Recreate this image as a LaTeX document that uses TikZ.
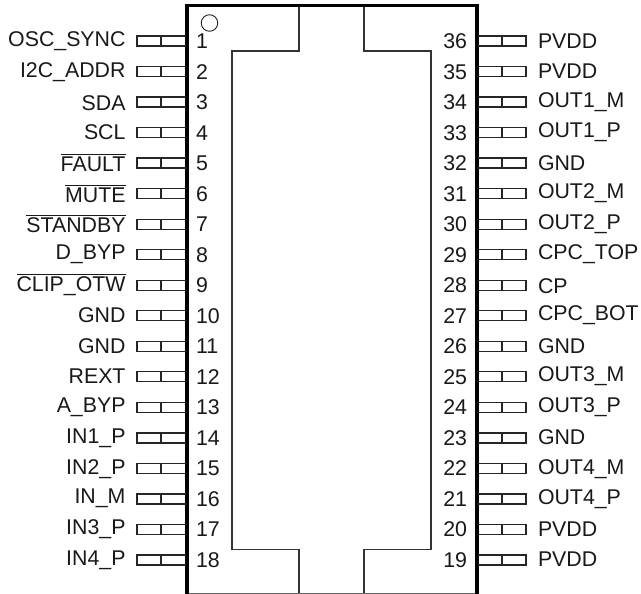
\documentclass[tikz,border=0pt]{standalone}
\usepackage{fontspec}
\setmainfont{Liberation Sans}
\newcommand\ovl[1]{\leavevmode\vbox{\hrule height 1pt\kern 1.9pt\hbox{#1}}}
\tikzset{
  pinbox/.style={draw=black!85,line width=1.3pt},
  body/.style={draw=black,line width=3.6pt,line cap=butt,line join=miter},
  inner/.style={draw=black!80,line width=1.2pt},
  txt/.style={inner sep=0pt,outer sep=0pt,font=\fontsize{21.4}{21.4}\selectfont,text=black!90},
  leftlabel/.style={txt,anchor=base east},
  rightlabel/.style={txt,anchor=base west},
  leftnum/.style={txt,anchor=base west},
  rightnum/.style={txt,anchor=base east},
}
\begin{document}
\begin{tikzpicture}[x=1bp,y=-1bp]
\useasboundingbox (0,0) rectangle (641,594);
\fill[white] (0,0) rectangle (641,594);
% package outline
\draw[black!60,line width=0.8pt] (187,593.6) -- (476.7,593.6);
\draw[body] (187,594) -- (187,5.5) -- (476.7,5.5) -- (476.7,594);
% die outline
\draw[inner] (299,7) -- (299,51) -- (232,51) -- (232,549.5) -- (299,549.5) -- (299,593);
\draw[inner] (364,7) -- (364,51) -- (431,51) -- (431,549.5) -- (364,549.5) -- (364,593);
\node[circle,draw=black!85,line width=0.9pt,minimum size=16.5bp,inner sep=0pt] (dot) at (209.5,23) {};
% left side
\foreach \n/\d/\lab in {1/6/OSC\_SYNC,2/5.8/I2C\_ADDR,3/8/SDA,4/6.7/SCL,5/8.6/\ovl{FAULT},6/9/\ovl{MUTE},7/8.5/\ovl{STANDBY},8/4.6/D\_BYP,9/6.4/\ovl{CLIP\_OTW},10/7/GND,11/7/GND,12/6.5/REXT,13/5.3/A\_BYP,14/5.4/IN1\_P,15/5.6/IN2\_P,16/5/IN\_M,17/4.8/IN3\_P,18/5/IN4\_P}{
  \pgfmathsetmacro\yc{41+30.53*(\n-1)}
  \draw[pinbox] (185.5,\yc-5) -- (137,\yc-5) -- (137,\yc+5) -- (185.5,\yc+5) (161,\yc-5) -- (161,\yc+5);
  \node[leftlabel] (L\n) at (125.5,\yc+\d) {\lab};
  \node[leftnum] (NL\n) at (196,\yc+7.5) {\n};
}
% right side
\foreach \n/\d/\lab in {36/8/PVDD,35/6.8/PVDD,34/5.7/OUT1\_M,33/5/OUT1\_P,32/7.6/GND,31/4.7/OUT2\_M,30/5.8/OUT2\_P,29/4.6/CPC\_TOP,28/8/CP,27/4.9/CPC\_BOT,26/7/GND,25/4.8/OUT3\_M,24/5.3/OUT3\_P,23/7/GND,22/5.6/OUT4\_M,21/6/OUT4\_P,20/7.2/PVDD,19/6.7/PVDD}{
  \pgfmathsetmacro\yc{41+30.53*(36-\n)}
  \draw[pinbox] (478,\yc-5) -- (526,\yc-5) -- (526,\yc+5) -- (478,\yc+5) (502,\yc-5) -- (502,\yc+5);
  \node[rightlabel] (R\n) at (538,\yc+\d) {\lab};
  \node[rightnum] (NR\n) at (467,\yc+7.5) {\n};
}
\end{tikzpicture}
\end{document}
